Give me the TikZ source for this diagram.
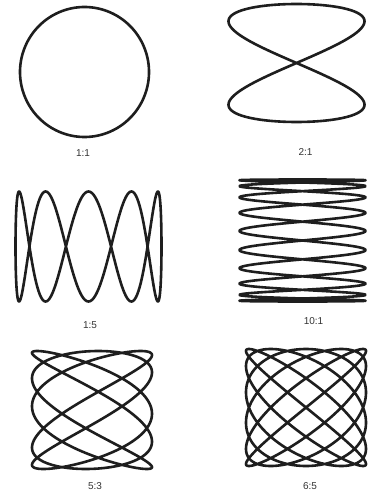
\documentclass[tikz,border=0pt]{standalone}
\usepackage{fontspec}
\setmainfont{Liberation Sans}
\definecolor{ink}{HTML}{1E1E1E}
\definecolor{txt}{HTML}{333333}
\begin{document}
\begin{tikzpicture}[x=1pt,y=-1pt,
  curve/.style={line width=2.6pt, draw=ink, line join=round},
  lbl/.style={font=\fontsize{10}{12}\selectfont, text=txt, inner sep=0pt}]
\useasboundingbox (0,0) rectangle (368,497);
% 1:1
\draw[curve] plot[domain=0:358, samples=180, smooth cycle] ({84.5+64.5*cos(\x)}, {72+65*sin(\x)});
% 2:1
\draw[curve] plot[domain=0:358.5, samples=240, smooth cycle] ({296.5+68*sin(2*\x)}, {63+59*sin(\x)});
% 1:5
\draw[curve] plot[domain=0:359.1, samples=400, smooth cycle] ({88.5+73*sin(\x)}, {246.5+55*cos(5*\x)});
% 10:1
\draw[curve] plot[domain=0:359.55, samples=800, smooth cycle] ({302.5+63*sin(10*\x)}, {240.5+61*sin(\x)});
% 5:3
\draw[curve] plot[domain=0:359.4, samples=600, smooth cycle] ({92+60*sin(5*\x+84)}, {410+59*sin(3*\x)});
% 6:5
\draw[curve] plot[domain=0:359.5, samples=720, smooth cycle] ({306+60*sin(6*\x)}, {407.5+58.5*sin(5*\x)});
% labels
\node[lbl] (l11) at (83,153.5) {1:1};
\node[lbl] (l21) at (305.5,152) {2:1};
\node[lbl] (l15) at (90,325.5) {1:5};
\node[lbl] (l101) at (313.5,321) {10:1};
\node[lbl] (l53) at (95,486.5) {5:3};
\node[lbl] (l65) at (310,486.5) {6:5};
\end{tikzpicture}
\end{document}
